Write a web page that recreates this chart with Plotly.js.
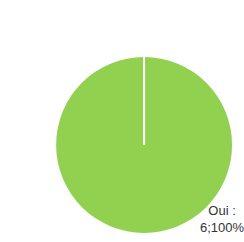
<!DOCTYPE html>
<html><head><meta charset="utf-8">
<script src="https://cdn.plot.ly/plotly-3.0.1.min.js"></script>
<style>html,body{margin:0;padding:0;background:#fff}</style>
</head><body><div id="chart" style="width:244px;height:242px"></div>
<script>
var labels = ["Oui"];
var values = [6];
var percents = ["100%"];
var colors = ["#92D050"];

var dom = {x:[0.230,0.951], y:[0.037,0.765]};
var cx = (dom.x[0]+dom.x[1])/2, cyTop = dom.y[1], cy = (dom.y[0]+dom.y[1])/2;

var data = [{
  type: "pie",
  labels: labels,
  values: values,
  marker: {colors: colors, line: {width: 0}},
  textinfo: "none",
  sort: false,
  direction: "clockwise",
  rotation: 0,
  hoverinfo: "none",
  domain: dom
}];

var layout = {
  width: 244, height: 242,
  margin: {l:0, r:0, t:0, b:0},
  paper_bgcolor: "#ffffff",
  showlegend: false,
  font: {family: "Liberation Sans, Arial, sans-serif"},
  shapes: [{type:"line", xref:"paper", yref:"paper", x0:cx, x1:cx, y0:cy, y1:cyTop+0.01,
            line:{color:"#ffffff", width:2}}],
  annotations: [{
    xref:"paper", yref:"paper", x: 0.913, y: 0.093, xanchor:"center", yanchor:"middle",
    text: labels[0] + " :<br>" + values[0] + ";" + percents[0],
    showarrow:false, align:"center",
    font:{size:13, color:"#333333", family:"Liberation Sans, Arial, sans-serif"}
  }]
};
Plotly.newPlot("chart", data, layout, {displayModeBar:false, staticPlot:true});
</script></body></html>
